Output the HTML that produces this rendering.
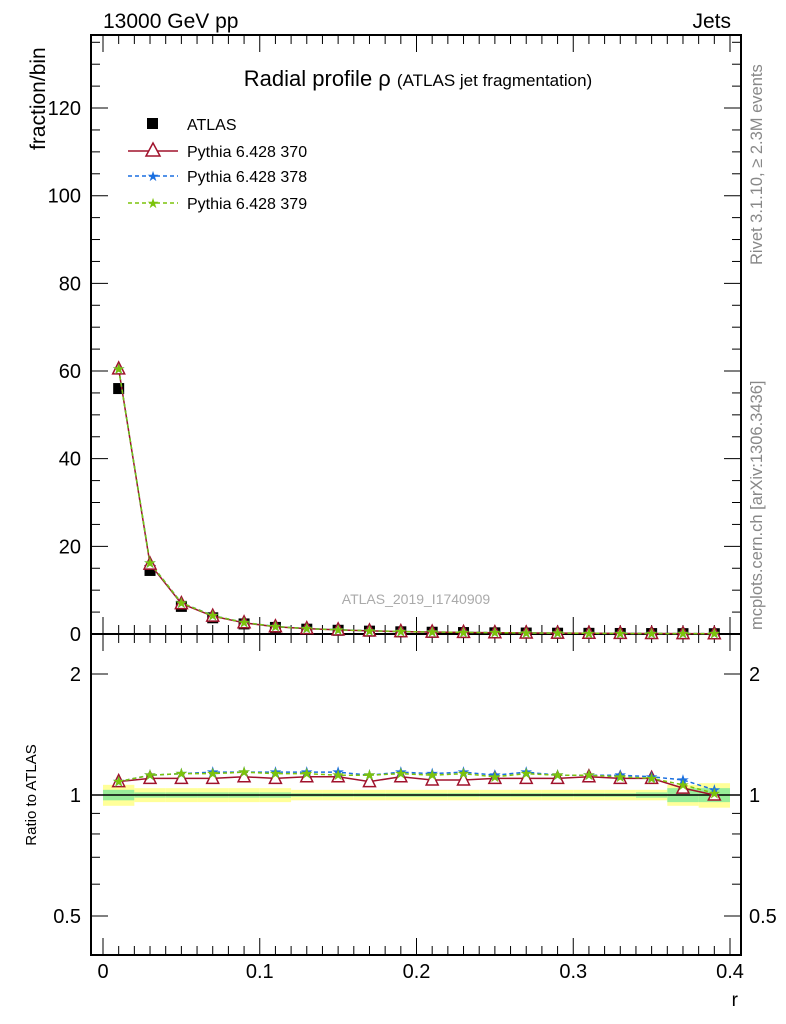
<!DOCTYPE html>
<html><head><meta charset="utf-8"><style>
body{margin:0;background:#fff;font-family:"Liberation Sans",sans-serif}
svg{display:block}
</style></head><body>
<svg id="c" width="786" height="1024" xmlns="http://www.w3.org/2000/svg" font-family="Liberation Sans, sans-serif">
<text x="103" y="28" font-size="21">13000 GeV pp</text>
<text x="731" y="28" font-size="21" text-anchor="end">Jets</text>
<text x="418" y="86" font-size="22" text-anchor="middle">Radial profile ρ <tspan font-size="17">(ATLAS jet fragmentation)</tspan></text>
<text transform="translate(45,150) rotate(-90)" font-size="21" text-anchor="start">fraction/bin</text>
<text transform="translate(36,795) rotate(-90)" font-size="15" text-anchor="middle">Ratio to ATLAS</text>
<text x="738" y="1006" font-size="19" text-anchor="end">r</text>
<text transform="translate(762,265) rotate(-90)" font-size="16.5" fill="#888">Rivet 3.1.10, ≥ 2.3M events</text>
<text transform="translate(762,630) rotate(-90)" font-size="16.5" fill="#888">mcplots.cern.ch [arXiv:1306.3436]</text>
<text x="416" y="604" font-size="14" fill="#aaa" text-anchor="middle">ATLAS_2019_I1740909</text>
<g id="g"></g>
<g>
<rect x="147" y="118" width="11" height="11" fill="#000"/>
<text x="187" y="130" font-size="16">ATLAS</text>
<line x1="128" y1="151" x2="178" y2="151" stroke="#a0122c" stroke-width="1.5"/>
<polygon points="153,143 160,156 146,156" fill="#fff" stroke="#a0122c" stroke-width="1.5"/>
<text x="187" y="157" font-size="16">Pythia 6.428 370</text>
<line x1="128" y1="176" x2="178" y2="176" stroke="#1a6fe0" stroke-width="1.5" stroke-dasharray="4,3"/>
<text x="153" y="181" font-size="14" fill="#1a6fe0" text-anchor="middle">★</text>
<text x="187" y="182" font-size="16">Pythia 6.428 378</text>
<line x1="128" y1="203" x2="178" y2="203" stroke="#7cc30c" stroke-width="1.5" stroke-dasharray="4,3"/>
<text x="153" y="208" font-size="14" fill="#7cc30c" text-anchor="middle">★</text>
<text x="187" y="209" font-size="16">Pythia 6.428 379</text>
</g>
</svg>
<script>
const xCenters=[0.01,0.03,0.05,0.07,0.09,0.11,0.13,0.15,0.17,0.19,0.21,0.23,0.25,0.27,0.29,0.31,0.33,0.35,0.37,0.39];
const atlasVals=[56,14.5,6.3,3.7,2.3,1.5,1.1,0.85,0.65,0.5,0.4,0.33,0.27,0.22,0.18,0.15,0.12,0.1,0.08,0.07];
const ratio370=[1.08,1.10,1.10,1.10,1.11,1.10,1.11,1.11,1.08,1.11,1.09,1.09,1.10,1.10,1.10,1.11,1.10,1.10,1.04,1.00];
const ratio378=[1.08,1.12,1.13,1.14,1.14,1.14,1.14,1.14,1.12,1.14,1.13,1.14,1.12,1.14,1.12,1.12,1.12,1.11,1.09,1.03];
const ratio379=[1.08,1.12,1.13,1.13,1.14,1.13,1.13,1.12,1.12,1.13,1.12,1.13,1.11,1.13,1.12,1.12,1.11,1.10,1.06,1.01];
const bandYellow=[0.06,0.04,0.04,0.04,0.04,0.04,0.03,0.03,0.03,0.03,0.03,0.03,0.03,0.03,0.03,0.03,0.03,0.03,0.06,0.07];
const bandGreen=[0.03,0.015,0.015,0.015,0.015,0.015,0.01,0.01,0.01,0.01,0.01,0.01,0.01,0.01,0.01,0.01,0.01,0.015,0.04,0.04];
const mainTicks=[0,20,40,60,80,100,120];
const ratioTicks=[0.5,1,2];
const xTicks=[0,0.1,0.2,0.3,0.4];
const L=91,R=741,T=35,M=634,B=955;
const X=v=>103+v*1567.5;
const Y=v=>634-v*4.383;
const YR=r=>795-Math.log10(r)*402;
const g=document.getElementById('g');
const NS='http://www.w3.org/2000/svg';
function mk(t,a,p){const e=document.createElementNS(NS,t);for(const k in a)e.setAttribute(k,a[k]);(p||g).appendChild(e);return e;}
xCenters.forEach((x,i)=>{
 let e=mk('rect',{x:X(x-0.01),y:YR(1+bandYellow[i]),width:X(0.02)-X(0),height:YR(1-bandYellow[i])-YR(1+bandYellow[i]),fill:'#ffff99'});
 
 
 e=mk('rect',{x:X(x-0.01),y:YR(1+bandGreen[i]),width:X(0.02)-X(0),height:YR(1-bandGreen[i])-YR(1+bandGreen[i]),fill:'#99ee99'});
 
 
});
let ln=mk('line',{x1:L,x2:R,y1:YR(1),y2:YR(1),stroke:'#000','stroke-width':1.5});


[[T,M],[M,B]].forEach(([a,b])=>{const f=mk('rect',{x:L,y:a,width:R-L,height:b-a,fill:'none',stroke:'#000','stroke-width':2});

});
for(let v=0;v<=135;v+=5){const y=Y(v);if(y<T)break;const len=v%20==0?17:9;mk('line',{x1:L,x2:L+len,y1:y,y2:y,stroke:'#000'});mk('line',{x1:R,x2:R-len,y1:y,y2:y,stroke:'#000'});}
mainTicks.forEach(v=>{const t=mk('text',{x:L-10,y:Y(v)+7,'font-size':20,'text-anchor':'end'});t.textContent=v;

});
[0.5,0.6,0.7,0.8,0.9,1,2].forEach(v=>{const y=YR(v);const len=ratioTicks.includes(v)?17:9;mk('line',{x1:L,x2:L+len,y1:y,y2:y,stroke:'#000'});mk('line',{x1:R,x2:R-len,y1:y,y2:y,stroke:'#000'});});
ratioTicks.forEach(v=>{let t=mk('text',{x:L-10,y:YR(v)+7,'font-size':20,'text-anchor':'end'});t.textContent=v;


t=mk('text',{x:R+8,y:YR(v)+7,'font-size':20});t.textContent=v;

});
for(let i=0;i<=41;i++){const v=i*0.01,x=X(v);if(x>R)break;const len=i%10==0?17:9;
[[M,1],[T,1],[M,-1],[B,-1]].forEach(([y0,d])=>mk('line',{x1:x,x2:x,y1:y0,y2:y0+d*len,stroke:'#000'}));}
xTicks.forEach(v=>{const t=mk('text',{x:X(v),y:978,'font-size':20,'text-anchor':'middle'});t.textContent=v;

});
const series=[{r:ratio370,c:'#a0122c',d:'',m:'tri',n:'370'},{r:ratio378,c:'#1a6fe0',d:'4,3',m:'star',n:'378'},{r:ratio379,c:'#7cc30c',d:'4,3',m:'star',n:'379'}];
function marker(x,y,s){if(s.m=='tri'){const e=mk('polygon',{points:`${x},${y-7} ${x+6},${y+5} ${x-6},${y+5}`,fill:'#fff',stroke:s.c,'stroke-width':1.5});

}
else{const e=mk('text',{x:x,y:y+5,'font-size':15,fill:s.c,'text-anchor':'middle'});e.textContent='★';

}}
xCenters.forEach((x,i)=>{const e=mk('rect',{x:X(x)-5.5,y:Y(atlasVals[i])-5.5,width:11,height:11,fill:'#000'});

});
series.forEach(s=>{
 const pm=xCenters.map((x,i)=>X(x)+','+Y(atlasVals[i]*s.r[i])).join(' ');
 let p=mk('polyline',{points:pm,fill:'none',stroke:s.c,'stroke-width':1.5,'stroke-dasharray':s.d});
 
 
 const pr=xCenters.map((x,i)=>X(x)+','+YR(s.r[i])).join(' ');
 p=mk('polyline',{points:pr,fill:'none',stroke:s.c,'stroke-width':1.5,'stroke-dasharray':s.d});
 
 
});
series.forEach(s=>xCenters.forEach((x,i)=>{marker(X(x),Y(atlasVals[i]*s.r[i]),s);marker(X(x),YR(s.r[i]),s);}));
</script>
</body></html>
